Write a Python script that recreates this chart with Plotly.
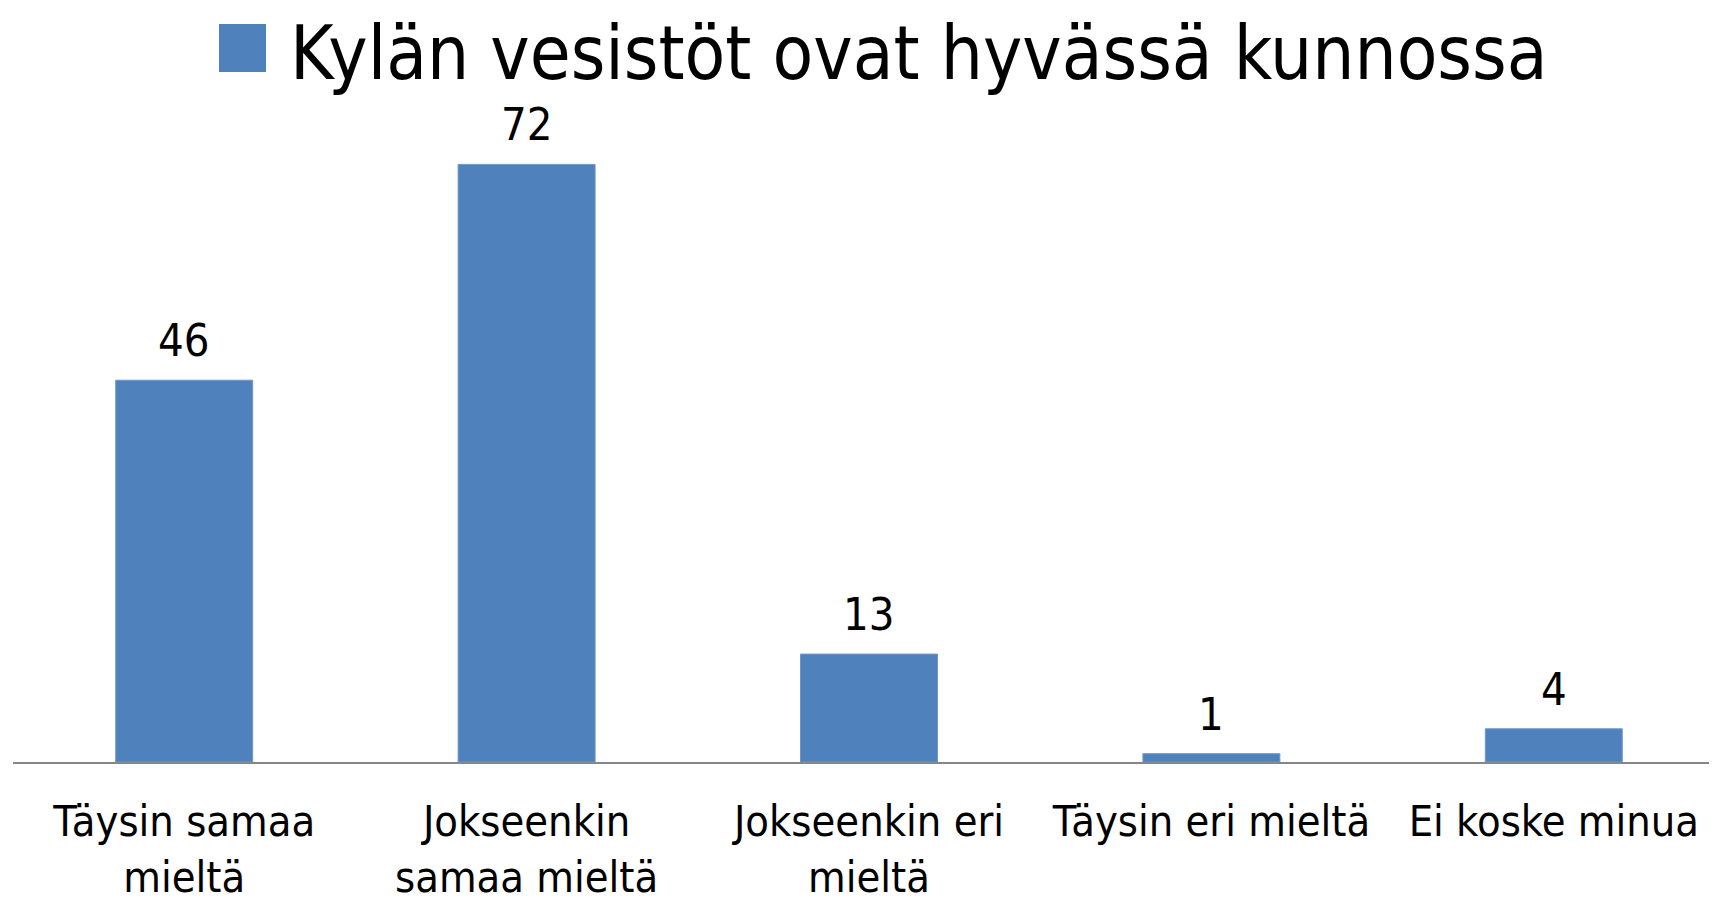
import plotly.graph_objects as go

categories = ["Täysin samaa<br>mieltä", "Jokseenkin<br>samaa mieltä", "Jokseenkin eri<br>mieltä",
              "Täysin eri mieltä", "Ei koske minua"]
values = [46, 72, 13, 1, 4]
series_name = "Kylän vesistöt ovat hyvässä kunnossa"

FONT = "Liberation Sans Narrow, Arial Narrow, DejaVu Sans Condensed, sans-serif"
BLUE = "#4F81BD"

# page body has an 8px default margin; layout is expressed in figure coordinates
L, T, B = 5, 90, 151
PW, PH = 1717 - L, 905 - T - B

fig = go.Figure()
fig.add_trace(go.Bar(
    x=list(range(len(categories))), y=values, name=series_name,
    marker=dict(color=BLUE, line=dict(color="#6E97C8", width=1)),
    showlegend=False, hoverinfo="skip",
))

annotations = []
for i, v in enumerate(values):
    annotations.append(dict(x=i, y=v, xref="x", yref="y", text=str(v), showarrow=False,
                            yanchor="bottom", yshift=11, font=dict(family=FONT, size=45, color="black")))
annotations.append(dict(x=(280 - L) / PW, y=1 + T / PH, xref="paper", yref="paper",
                        text=series_name, showarrow=False, xanchor="left", yanchor="top",
                        font=dict(family=FONT, size=74, color="black")))

fig.update_layout(
    width=1717, height=905,
    margin=dict(l=L, r=0, t=T, b=B, autoexpand=False),
    paper_bgcolor="white", plot_bgcolor="white",
    bargap=0.6,
    font=dict(family=FONT, color="black"),
    xaxis=dict(range=[-0.5, 4.5], tickmode="array", tickvals=list(range(len(categories))),
               ticktext=categories, tickfont=dict(family=FONT, size=43, color="black"),
               showline=True, linecolor="#868686", linewidth=2, showgrid=False, zeroline=False,
               ticks="", ticklabelstandoff=20, automargin=False, fixedrange=True),
    yaxis=dict(range=[0, 80], visible=False, automargin=False, fixedrange=True),
    annotations=annotations,
    shapes=[dict(type="rect", xref="paper", yref="paper",
                 x0=(211 - L) / PW, x1=(258 - L) / PW,
                 y0=1 + (T - 64) / PH, y1=1 + (T - 16) / PH,
                 fillcolor=BLUE, line=dict(width=0))],
)

fig.write_html("out.html")
